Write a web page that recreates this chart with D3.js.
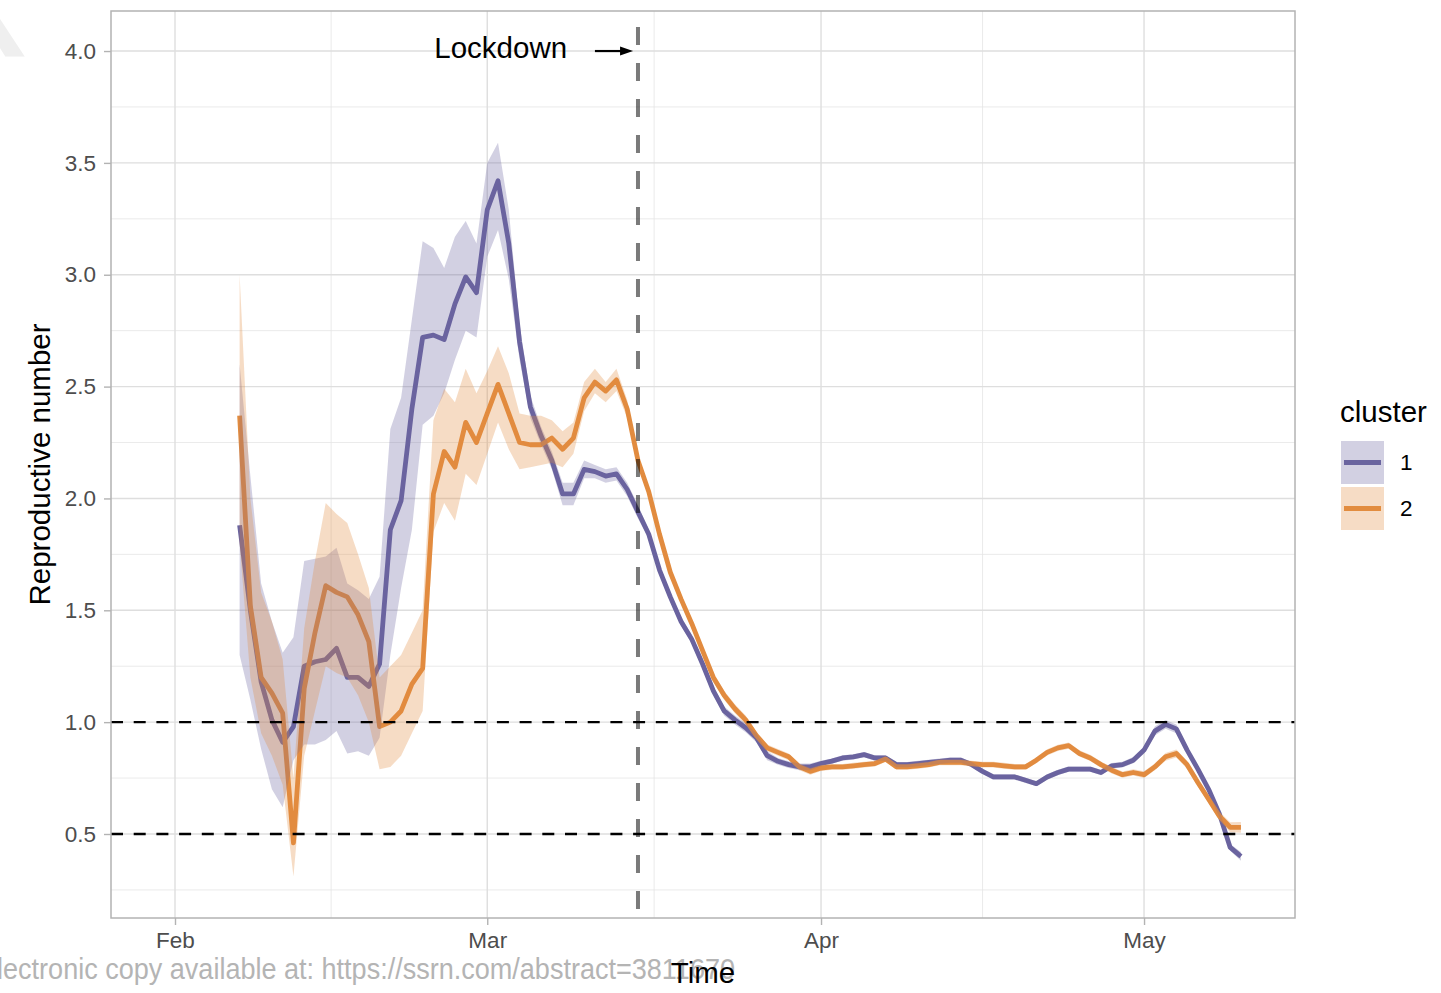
<!DOCTYPE html>
<html>
<head>
<meta charset="utf-8">
<script src="https://cdn.jsdelivr.net/npm/d3@7"></script>
<style>
  body { margin: 0; background: #ffffff; }
  svg { display: block; }
  text { font-family: "Liberation Sans", Arial, Helvetica, sans-serif; }
</style>
</head>
<body>
<svg id="chart" width="1441" height="993"></svg>
<script>
// ---- data -------------------------------------------------------------
const firstDay = "2020-02-07";
const lastDay = "2020-05-10";

const clusterNames = ["1", "2"];

// cluster 1: reproductive number and its interval
const r1 = [
  1.88, 1.50, 1.18, 1.01, 0.91, 0.98, 1.25, 1.27, 1.28, 1.33, 1.20, 1.20, 1.16, 1.26, 1.86, 1.99, 2.40, 2.72, 2.73, 2.71, 2.87, 2.99, 2.92,
  3.29, 3.42, 3.14, 2.70, 2.41, 2.28, 2.17, 2.02, 2.02, 2.13, 2.12, 2.10, 2.11, 2.04, 1.94, 1.84, 1.68, 1.56, 1.45, 1.37, 1.26, 1.14, 1.05, 1.01, 0.975, 0.93, 0.85, 0.825, 0.81, 0.80, 0.80,
  0.815, 0.826, 0.84, 0.845, 0.855, 0.84, 0.84, 0.81, 0.81, 0.815, 0.82, 0.825, 0.83, 0.83, 0.81, 0.78, 0.755, 0.755, 0.755, 0.74, 0.725, 0.755, 0.775, 0.79, 0.79, 0.79, 0.775, 0.805, 0.81, 0.83,
  0.875, 0.96, 0.99, 0.97, 0.875, 0.79, 0.70, 0.59, 0.44, 0.40
];
const r1Low = [
  1.30, 1.10, 0.88, 0.70, 0.62, 0.83, 0.90, 0.90, 0.92, 0.96, 0.86, 0.87, 0.85, 0.93, 1.30, 1.60, 1.86, 2.33, 2.37, 2.47, 2.62, 2.75, 2.72,
  3.08, 3.20, 2.98, 2.62, 2.36, 2.24, 2.13, 1.97, 1.97, 2.09, 2.09, 2.07, 2.08, 2.01, 1.91, 1.82, 1.66, 1.54, 1.43, 1.35, 1.24, 1.12, 1.03, 0.99, 0.955, 0.91, 0.83, 0.81, 0.795, 0.785, 0.785,
  0.803, 0.814, 0.828, 0.833, 0.843, 0.828, 0.828, 0.798, 0.798, 0.803, 0.808, 0.813, 0.818, 0.818, 0.798, 0.768, 0.743, 0.743, 0.743, 0.728, 0.713, 0.743, 0.763, 0.778, 0.778, 0.778, 0.763, 0.793, 0.797, 0.816,
  0.86, 0.94, 0.97, 0.95, 0.86, 0.775, 0.685, 0.575, 0.425, 0.38
];
const r1High = [
  2.60, 2.10, 1.62, 1.45, 1.31, 1.38, 1.72, 1.73, 1.74, 1.78, 1.62, 1.59, 1.55, 1.65, 2.31, 2.45, 2.80, 3.15, 3.12, 3.03, 3.17, 3.24, 3.14,
  3.50, 3.59, 3.29, 2.78, 2.46, 2.32, 2.21, 2.07, 2.07, 2.17, 2.15, 2.13, 2.14, 2.07, 1.97, 1.86, 1.70, 1.58, 1.47, 1.39, 1.28, 1.16, 1.07, 1.03, 0.995, 0.95, 0.87, 0.84, 0.825, 0.815, 0.815,
  0.827, 0.838, 0.852, 0.857, 0.867, 0.852, 0.852, 0.822, 0.822, 0.827, 0.832, 0.837, 0.842, 0.842, 0.822, 0.792, 0.767, 0.767, 0.767, 0.752, 0.737, 0.767, 0.787, 0.802, 0.802, 0.802, 0.787, 0.817, 0.823, 0.844,
  0.89, 0.98, 1.01, 0.99, 0.89, 0.805, 0.715, 0.605, 0.455, 0.42
];

// cluster 2: reproductive number and its interval
const r2 = [
  2.37, 1.52, 1.20, 1.13, 1.04, 0.46, 1.15, 1.40, 1.61, 1.58, 1.56, 1.48, 1.36, 0.98, 1.00, 1.05, 1.17, 1.24, 2.02, 2.21, 2.14, 2.34, 2.25,
  2.38, 2.51, 2.38, 2.25, 2.24, 2.24, 2.27, 2.22, 2.27, 2.45, 2.52, 2.48, 2.53, 2.40, 2.17, 2.03, 1.84, 1.67, 1.55, 1.44, 1.32, 1.20, 1.12, 1.06, 1.01, 0.94, 0.885, 0.865, 0.845, 0.80, 0.78,
  0.795, 0.80, 0.80, 0.805, 0.81, 0.815, 0.835, 0.80, 0.80, 0.805, 0.81, 0.82, 0.82, 0.82, 0.815, 0.81, 0.81, 0.805, 0.80, 0.80, 0.83, 0.865, 0.885, 0.895, 0.86, 0.84, 0.81, 0.785, 0.765, 0.775,
  0.765, 0.80, 0.845, 0.86, 0.81, 0.73, 0.655, 0.58, 0.53, 0.53
];
const r2Low = [
  1.80, 1.20, 0.95, 0.85, 0.72, 0.31, 0.85, 1.05, 1.25, 1.22, 1.20, 1.12, 1.00, 0.79, 0.80, 0.85, 0.95, 1.05, 1.85, 1.98, 1.90, 2.11, 2.06,
  2.20, 2.34, 2.22, 2.13, 2.14, 2.15, 2.16, 2.14, 2.20, 2.39, 2.47, 2.43, 2.48, 2.36, 2.15, 2.01, 1.82, 1.65, 1.53, 1.42, 1.30, 1.18, 1.10, 1.04, 0.99, 0.925, 0.87, 0.85, 0.83, 0.785, 0.765,
  0.782, 0.787, 0.787, 0.792, 0.797, 0.802, 0.822, 0.787, 0.787, 0.792, 0.797, 0.807, 0.807, 0.807, 0.802, 0.797, 0.797, 0.792, 0.787, 0.787, 0.817, 0.851, 0.871, 0.881, 0.846, 0.826, 0.796, 0.771, 0.751, 0.761,
  0.75, 0.785, 0.828, 0.842, 0.792, 0.712, 0.637, 0.56, 0.508, 0.506
];
const r2High = [
  3.00, 2.00, 1.58, 1.45, 1.28, 0.75, 1.42, 1.72, 1.98, 1.93, 1.89, 1.75, 1.60, 1.20, 1.25, 1.30, 1.40, 1.50, 2.35, 2.49, 2.43, 2.58, 2.47,
  2.57, 2.68, 2.56, 2.38, 2.37, 2.37, 2.35, 2.30, 2.34, 2.52, 2.58, 2.52, 2.58, 2.44, 2.19, 2.05, 1.86, 1.69, 1.57, 1.46, 1.34, 1.22, 1.14, 1.08, 1.03, 0.955, 0.90, 0.88, 0.86, 0.815, 0.795,
  0.808, 0.813, 0.813, 0.818, 0.823, 0.828, 0.848, 0.813, 0.813, 0.818, 0.823, 0.833, 0.833, 0.833, 0.828, 0.823, 0.823, 0.818, 0.813, 0.813, 0.843, 0.879, 0.899, 0.909, 0.874, 0.854, 0.824, 0.799, 0.779, 0.789,
  0.78, 0.815, 0.862, 0.878, 0.828, 0.748, 0.673, 0.60, 0.552, 0.554
];

// axis breaks and reference lines
const monthBreaks = ["2020-02-01", "2020-03-01", "2020-04-01", "2020-05-01"];
const yBreaks = [0.5, 1.0, 1.5, 2.0, 2.5, 3.0, 3.5, 4.0];
const yMinorBreaks = [0.25, 0.75, 1.25, 1.75, 2.25, 2.75, 3.25, 3.75];
const thresholds = [1.0, 0.5];
const lockdownDate = "2020-03-15";
const lockdownLabel = { text: "Lockdown", date: "2020-03-02T06:00", value: 4.0 };
const lockdownArrow = { from: "2020-03-11T00:00", to: "2020-03-14T13:00", value: 4.0 };

const colors = ["#6a649f", "#e28c3f"];

// ---- layout -----------------------------------------------------------
const panel = { left: 111, right: 1295, top: 11, bottom: 918 };
const svg = d3.select("#chart");

// faint page watermark in the top-left corner
svg.append("text")
  .attr("x", -97).attr("y", 56)
  .attr("font-size", 180).attr("fill", "#efefef")
  .text("R");

const x = d3.scaleUtc()
  .domain([new Date("2020-01-26T01:20Z"), new Date("2020-05-15T00:30Z")])
  .range([panel.left, panel.right]);
const y = d3.scaleLinear()
  .domain([0.1245, 4.179])
  .range([panel.bottom, panel.top]);

const days = d3.utcDay.range(new Date(firstDay + "T00:00Z"), d3.utcDay.offset(new Date(lastDay + "T00:00Z"), 1));
const series = [
  { name: clusterNames[0], color: colors[0], values: days.map((d, i) => ({ date: d, r: r1[i], lo: r1Low[i], hi: r1High[i] })) },
  { name: clusterNames[1], color: colors[1], values: days.map((d, i) => ({ date: d, r: r2[i], lo: r2Low[i], hi: r2High[i] })) }
];

const majorX = monthBreaks.map(s => new Date(s + "T00:00Z"));
const minorX = d3.pairs(majorX).map(([a, b]) => new Date((+a + +b) / 2));

// ---- grid -------------------------------------------------------------
const grid = svg.append("g");
grid.selectAll(".ymin").data(yMinorBreaks).join("line")
  .attr("x1", panel.left).attr("x2", panel.right)
  .attr("y1", d => y(d)).attr("y2", d => y(d))
  .attr("stroke", "#e4e4e4").attr("stroke-width", 0.8);
grid.selectAll(".xmin").data(minorX).join("line")
  .attr("x1", d => x(d)).attr("x2", d => x(d))
  .attr("y1", panel.top).attr("y2", panel.bottom)
  .attr("stroke", "#e4e4e4").attr("stroke-width", 0.8);
grid.selectAll(".ymaj").data(yBreaks).join("line")
  .attr("x1", panel.left).attr("x2", panel.right)
  .attr("y1", d => y(d)).attr("y2", d => y(d))
  .attr("stroke", "#dedede").attr("stroke-width", 1.4);
grid.selectAll(".xmaj").data(majorX).join("line")
  .attr("x1", d => x(d)).attr("x2", d => x(d))
  .attr("y1", panel.top).attr("y2", panel.bottom)
  .attr("stroke", "#dedede").attr("stroke-width", 1.4);

// ---- lines and intervals ----------------------------------------------
const line = d3.line().x(d => x(d.date)).y(d => y(d.r));
const band = d3.area().x(d => x(d.date)).y0(d => y(d.lo)).y1(d => y(d.hi));

svg.append("g").selectAll("path").data(series).join("path")
  .attr("d", d => line(d.values))
  .attr("fill", "none")
  .attr("stroke", d => d.color)
  .attr("stroke-width", 4.8)
  .attr("stroke-linejoin", "round");

svg.append("g").selectAll("path").data(series).join("path")
  .attr("d", d => band(d.values))
  .attr("fill", d => d.color)
  .attr("fill-opacity", 0.3);

// ---- reference lines --------------------------------------------------
svg.append("g").selectAll("line").data(thresholds).join("line")
  .attr("x1", panel.left).attr("x2", panel.right)
  .attr("y1", d => y(d)).attr("y2", d => y(d))
  .attr("stroke", "#000").attr("stroke-width", 2.4)
  .attr("stroke-dasharray", "12 10.7");

const lx = x(new Date(lockdownDate + "T00:00Z"));
svg.append("line")
  .attr("x1", lx).attr("x2", lx)
  .attr("y1", panel.top).attr("y2", panel.bottom)
  .attr("stroke", "#000").attr("stroke-opacity", 0.52)
  .attr("stroke-width", 4)
  .attr("stroke-dasharray", "18 18")
  .attr("stroke-dashoffset", 20);

// annotation
svg.append("text")
  .attr("x", x(new Date(lockdownLabel.date + "Z")))
  .attr("y", y(lockdownLabel.value))
  .attr("dy", "0.25em")
  .attr("text-anchor", "middle")
  .attr("font-size", 29.5)
  .attr("fill", "#000")
  .text(lockdownLabel.text);

const ax0 = x(new Date(lockdownArrow.from + "Z"));
const ax1 = x(new Date(lockdownArrow.to + "Z"));
const ay = y(lockdownArrow.value);
svg.append("line")
  .attr("x1", ax0).attr("x2", ax1 - 8)
  .attr("y1", ay).attr("y2", ay)
  .attr("stroke", "#000").attr("stroke-width", 2.2);
svg.append("path")
  .attr("d", `M${ax1},${ay} L${ax1 - 13},${ay - 4.5} L${ax1 - 13},${ay + 4.5} Z`)
  .attr("fill", "#000");

// ---- panel border -----------------------------------------------------
svg.append("rect")
  .attr("x", panel.left).attr("y", panel.top)
  .attr("width", panel.right - panel.left).attr("height", panel.bottom - panel.top)
  .attr("fill", "none").attr("stroke", "#b3b3b3").attr("stroke-width", 1.5);

// ---- axes -------------------------------------------------------------
const yAxis = svg.append("g").attr("transform", `translate(${panel.left},0)`)
  .call(d3.axisLeft(y).tickValues(yBreaks).tickFormat(d3.format(".1f")).tickSizeInner(7).tickSizeOuter(0).tickPadding(8));
const xAxis = svg.append("g").attr("transform", `translate(0,${panel.bottom})`)
  .call(d3.axisBottom(x).tickValues(majorX).tickFormat(d3.utcFormat("%b")).tickSizeInner(7).tickSizeOuter(0).tickPadding(7));
[yAxis, xAxis].forEach(g => {
  g.select(".domain").remove();
  g.selectAll(".tick line").attr("stroke", "#b3b3b3").attr("stroke-width", 1.4);
  g.selectAll(".tick text").attr("fill", "#4d4d4d").attr("font-size", 22.5)
    .attr("font-family", "'Liberation Sans', Arial, sans-serif");
});

// watermark line along the bottom edge
svg.append("text")
  .attr("x", -21).attr("y", 968).attr("dy", "0.35em")
  .attr("font-size", 30)
  .attr("textLength", 756).attr("lengthAdjust", "spacingAndGlyphs")
  .attr("fill", "#b4b4b4")
  .text("Electronic copy available at: https://ssrn.com/abstract=3811670");

// axis titles
svg.append("text")
  .attr("x", (panel.left + panel.right) / 2).attr("y", 973).attr("dy", "0.35em")
  .attr("text-anchor", "middle").attr("font-size", 29.5).attr("fill", "#000")
  .text("Time");
svg.append("text")
  .attr("transform", `translate(40,${(panel.top + panel.bottom) / 2}) rotate(-90)`)
  .attr("dy", "0.35em")
  .attr("text-anchor", "middle").attr("font-size", 29.5).attr("fill", "#000")
  .text("Reproductive number");

// ---- legend -----------------------------------------------------------
const legend = svg.append("g").attr("transform", "translate(1340,0)");
legend.append("text")
  .attr("x", 0).attr("y", 412).attr("dy", "0.35em")
  .attr("font-size", 29.5).attr("fill", "#000")
  .text("cluster");
const keys = legend.selectAll(".key").data(series).join("g")
  .attr("transform", (d, i) => `translate(1,${441 + i * 46})`);
keys.append("rect").attr("width", 43).attr("height", 43).attr("fill", "#fff");
keys.append("rect").attr("width", 43).attr("height", 43)
  .attr("fill", d => d.color).attr("fill-opacity", 0.3);
keys.append("line")
  .attr("x1", 3).attr("x2", 40).attr("y1", 21.5).attr("y2", 21.5)
  .attr("stroke", d => d.color).attr("stroke-width", 4.8);
keys.append("text")
  .attr("x", 59).attr("y", 21.5).attr("dy", "0.35em")
  .attr("font-size", 22.5).attr("fill", "#000")
  .text(d => d.name);
</script>
</body>
</html>
